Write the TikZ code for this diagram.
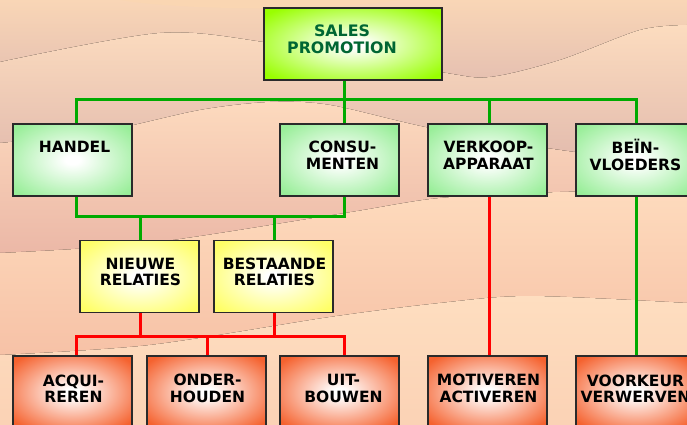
\documentclass[tikz,border=0pt]{standalone}
\usepackage{fontspec}
\setmainfont{DejaVu Sans}
\definecolor{gEdge}{HTML}{99EE99}
\definecolor{sEdge}{HTML}{99FF00}
\definecolor{yEdge}{HTML}{FFFF66}
\definecolor{rEdge}{HTML}{F5622F}
\definecolor{lineG}{HTML}{00AA00}
\definecolor{lineR}{HTML}{FF0000}
\definecolor{spText}{HTML}{006633}
\definecolor{boxBorder}{HTML}{2A2A2A}
\definecolor{bgA1}{RGB}{249,214,182}
\definecolor{bgA2}{RGB}{226,188,176}
\definecolor{bgTop}{RGB}{250,214,178}
\definecolor{bgB1}{RGB}{252,220,191}
\definecolor{bgB2}{RGB}{221,180,170}
\definecolor{bgC1}{RGB}{253,218,190}
\definecolor{bgC2}{RGB}{234,181,165}
\definecolor{bgD1}{RGB}{254,219,189}
\definecolor{bgD2}{RGB}{246,192,165}
\definecolor{bgE1}{RGB}{254,222,192}
\definecolor{bgE2}{RGB}{251,210,181}
\pgfdeclareradialshading{greenglow}{\pgfpoint{0bp}{0bp}}{color(0bp)=(white); color(3bp)=(white); color(32bp)=(gEdge); color(100bp)=(gEdge)}
\pgfdeclareradialshading{limeglow}{\pgfpoint{0bp}{0bp}}{color(0bp)=(white); color(3bp)=(white); color(32bp)=(sEdge); color(100bp)=(sEdge)}
\pgfdeclareradialshading{yellowglow}{\pgfpoint{0bp}{0bp}}{color(0bp)=(white); color(3bp)=(white); color(32bp)=(yEdge); color(100bp)=(yEdge)}
\pgfdeclareradialshading{redglow}{\pgfpoint{0bp}{0bp}}{color(0bp)=(white); color(3bp)=(white); color(32bp)=(rEdge); color(100bp)=(rEdge)}
\tikzset{
  boxbase/.style={draw=boxBorder, line width=1.6pt, minimum width=119pt, minimum height=72pt, inner sep=0pt},
  gbox/.style={boxbase, shading=greenglow},
  sbox/.style={boxbase, shading=limeglow, minimum width=178pt},
  ybox/.style={boxbase, shading=yellowglow},
  rbox/.style={boxbase, shading=redglow},
  lbl/.style={font=\fontsize{15.5}{16.5}\selectfont\bfseries, align=center, inner sep=0pt},
  gline/.style={draw=lineG, line width=3pt},
  rline/.style={draw=lineR, line width=3pt},
}
\begin{document}
\begin{tikzpicture}[x=1pt,y=-1pt]
\useasboundingbox (0,0) rectangle (687,425);
\clip (0,0) rectangle (687,425);
% background bands
\fill[top color=bgA1, bottom color=bgA2] (0,0) rectangle (687,95);
\fill[bgTop] (120,0) .. controls (180,10) and (320,12) .. (400,0) -- cycle;
\fill[top color=bgB1, bottom color=bgB2]
  plot[smooth] coordinates {(0,62) (160,33) (270,43) (440,72) (490,77) (560,60) (640,30) (687,25)} -- (687,190) -- (0,190) -- cycle;
\fill[top color=bgC1, bottom color=bgC2]
  plot[smooth] coordinates {(0,143) (100,132) (200,110) (270,102) (330,105) (430,128) (560,150) (687,165)} -- (687,265) -- (0,265) -- cycle;
\fill[top color=bgD1, bottom color=bgD2]
  plot[smooth] coordinates {(0,253) (150,243) (345,213) (440,198) (560,192) (687,190)} -- (687,365) -- (0,365) -- cycle;
\fill[top color=bgE1, bottom color=bgE2]
  plot[smooth] coordinates {(0,355) (150,345) (330,317) (440,303) (530,296) (687,303)} -- (687,425) -- (0,425) -- cycle;

% coordinates for connector levels
\coordinate (lvA) at (0,100);
\coordinate (lvB) at (0,216);
\coordinate (lvC) at (0,336);

% boxes
\node[sbox] (sp) at (353,44) {};
\node[gbox] (handel) at (72.5,160) {};
\node[gbox] (consu) at (339.5,160) {};
\node[gbox] (verk) at (487.5,160) {};
\node[gbox] (bein) at (635.5,160) {};
\node[ybox] (nieuw) at (139.5,276.5) {};
\node[ybox] (best) at (273.5,276.5) {};
\node[rbox] (acq) at (72.5,392) {};
\node[rbox] (ond) at (206.5,392) {};
\node[rbox] (uit) at (339.5,392) {};
\node[rbox] (mot) at (487.5,392) {};
\node[rbox] (voor) at (635.5,392) {};

% connectors (green)
\draw[gline] ([xshift=-9pt]sp.south) -- ([xshift=4.5pt]consu.north);
\draw[gline] ([xshift=3.5pt]handel.north) |- ([xshift=0.5pt]bein.north |- lvA) -- ([xshift=0.5pt]bein.north);
\draw[gline] ([xshift=1.5pt]verk.north) -- ([xshift=1.5pt]verk.north |- lvA);
\draw[gline] ([xshift=3.5pt]handel.south) |- ([xshift=4.5pt]consu.south |- lvB) -- ([xshift=4.5pt]consu.south);
\draw[gline] ([xshift=0.5pt]nieuw.north) -- ([xshift=0.5pt]nieuw.north |- lvB);
\draw[gline] ([xshift=0.5pt]best.north) -- ([xshift=0.5pt]best.north |- lvB);
\draw[gline] ([xshift=0.5pt]bein.south) -- ([xshift=0.5pt]voor.north);
% connectors (red)
\draw[rline] ([xshift=0.5pt]nieuw.south) -- ([xshift=0.5pt]nieuw.south |- lvC);
\draw[rline] ([xshift=0.5pt]best.south) -- ([xshift=0.5pt]best.south |- lvC);
\draw[rline] ([xshift=3.5pt]acq.north) |- ([xshift=4.5pt]uit.north |- lvC) -- ([xshift=4.5pt]uit.north);
\draw[rline] ([xshift=0.5pt]ond.north) -- ([xshift=0.5pt]ond.north |- lvC);
\draw[rline] ([xshift=1.5pt]verk.south) -- ([xshift=1.5pt]mot.north);

% labels
\node[lbl, text=spText, font=\fontsize{15.8}{16.5}\selectfont\bfseries] (tsp) at ([xshift=-11pt,yshift=5pt]sp.center) {SALES\\PROMOTION};
\node[lbl] (thandel) at ([xshift=2pt,yshift=13pt]handel.center) {HANDEL};
\node[lbl] (tconsu) at ([xshift=3pt,yshift=5pt]consu.center) {CONSU-\\MENTEN};
\node[lbl] (tverk) at ([xshift=1pt,yshift=5pt]verk.center) {VERKOOP-\\APPARAAT};
\node[lbl] (tbein) at ([xshift=0pt,yshift=5pt]bein.center) {BEÏN-\\VLOEDERS};
\node[lbl] (tnieuw) at ([xshift=1pt,yshift=4.5pt]nieuw.center) {NIEUWE\\RELATIES};
\node[lbl] (tbest) at ([xshift=1pt,yshift=4.5pt]best.center) {BESTAANDE\\RELATIES};
\node[lbl] (tacq) at ([xshift=1pt,yshift=3.5pt]acq.center) {ACQUI-\\REREN};
\node[lbl] (tond) at ([xshift=1pt,yshift=3.5pt]ond.center) {ONDER-\\HOUDEN};
\node[lbl] (tuit) at ([xshift=4pt,yshift=3.5pt]uit.center) {UIT-\\BOUWEN};
\node[lbl] (tmot) at ([xshift=1pt,yshift=3.5pt]mot.center) {MOTIVEREN\\ACTIVEREN};
\node[lbl] (tvoor) at ([xshift=0pt,yshift=3.5pt]voor.center) {VOORKEUR\\VERWERVEN};
\end{tikzpicture}
\end{document}
